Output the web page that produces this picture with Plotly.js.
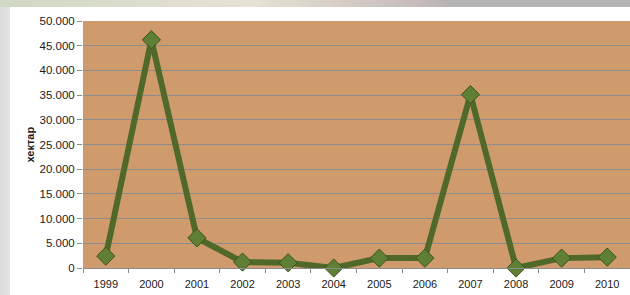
<!DOCTYPE html>
<html>
<head>
<meta charset="utf-8">
<script src="https://cdn.plot.ly/plotly-3.0.1.min.js"></script>
<style>
html,body{margin:0;padding:0;width:630px;height:295px;overflow:hidden;}
body{background:linear-gradient(90deg,#dcdcdc 0px,#e4e4e4 10px);position:relative;}
#top{position:absolute;left:0;top:0;width:630px;height:7px;background:linear-gradient(90deg,#cfd8c4 0%,#e6e2d6 40%,#c9bdbb 65%,#b4b4b4 72%,#b4b4b4 100%);}
#chart{position:absolute;left:10px;top:7px;width:620px;height:288px;}
</style>
</head>
<body>
<div id="top"></div>
<div id="chart"></div>
<script>
var years = ['1999','2000','2001','2002','2003','2004','2005','2006','2007','2008','2009','2010'];
var hectares = [2400, 46200, 6100, 1200, 1050, 0, 2000, 2000, 35100, 0, 2000, 2200];
var yTicks = [0, 5000, 10000, 15000, 20000, 25000, 30000, 35000, 40000, 45000, 50000];
var yTickText = ['0','5.000','10.000','15.000','20.000','25.000','30.000','35.000','40.000','45.000','50.000'];
var yTitle = 'хектар';

var font = '"Liberation Sans", Arial, sans-serif';

var trace = {
  x: years,
  y: hectares,
  type: 'scatter',
  mode: 'lines+markers',
  line: {color: '#50692a', width: 6},
  marker: {symbol: 'diamond', size: 14, color: '#5f7f35', line: {color: '#3e521f', width: 1}},
  cliponaxis: false,
  hoverinfo: 'x+y'
};

var layout = {
  width: 620,
  height: 288,
  margin: {l: 73, r: 0, t: 13.7, b: 26.7},
  paper_bgcolor: '#ffffff',
  plot_bgcolor: '#cf9b6d',
  showlegend: false,
  font: {family: font, size: 11, color: '#1a1a1a'},
  xaxis: {
    type: 'category',
    range: [-0.5, years.length - 0.5],
    autorange: false,
    tickson: 'boundaries',
    ticks: 'outside',
    ticklen: 4,
    tickcolor: '#8c8c8c',
    ticklabelstandoff: 6,
    showgrid: false,
    showline: true,
    linecolor: '#8c8c8c',
    linewidth: 1,
    tickfont: {family: font, size: 11, color: '#1a1a1a'},
    fixedrange: true
  },
  yaxis: {
    range: [0, 50000],
    autorange: false,
    tickvals: yTicks,
    ticktext: yTickText,
    ticks: 'outside',
    ticklen: 5,
    tickcolor: '#8c8c8c',
    showgrid: true,
    gridcolor: '#8c8c8c',
    gridwidth: 1,
    zeroline: false,
    showline: false,
    tickfont: {family: font, size: 11.5, color: '#1a1a1a'},
    fixedrange: true
  },
  annotations: [{
    text: '<b>' + yTitle + '</b>',
    xref: 'paper', yref: 'paper',
    x: 0, y: 0.5,
    xanchor: 'center', yanchor: 'middle',
    xshift: -54,
    textangle: -90,
    showarrow: false,
    font: {family: font, size: 11, color: '#1a1a1a'}
  }]
};

Plotly.newPlot('chart', [trace], layout, {displayModeBar: false, staticPlot: true});
</script>
</body>
</html>
